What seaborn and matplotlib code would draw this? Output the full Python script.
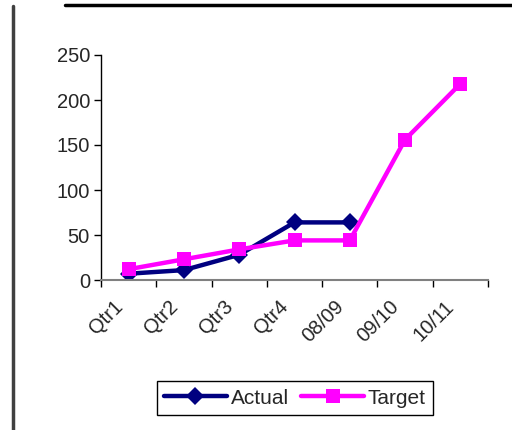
import pandas as pd
import numpy as np
import matplotlib.pyplot as plt
import seaborn as sns
import matplotlib.transforms as mtransforms
from matplotlib.lines import Line2D

# chart data
periods = ['Qtr1', 'Qtr2', 'Qtr3', 'Qtr4', '08/09', '09/10', '10/11']
actual = [7, 11, 28, 64, 64, np.nan, np.nan]
target = [12, 23, 34, 44, 44, 156, 218]

df = pd.DataFrame({'period': periods, 'Actual': actual, 'Target': target})

sns.set_style('white')
plt.rcParams['font.family'] = ['Liberation Sans', 'DejaVu Sans']

fig = plt.figure(figsize=(5.12, 4.30), dpi=100)
ax = fig.add_axes([101 / 512, 1 - 280 / 430, 387 / 512, 225 / 430])

sns.lineplot(data=df, x='period', y='Actual', ax=ax, color='#000080', lw=3.2,
             marker='D', markersize=9, markeredgewidth=0, label='Actual', legend=False)
sns.lineplot(data=df, x='period', y='Target', ax=ax, color='#FF00FF', lw=3.2,
             marker='s', markersize=10, markeredgewidth=0, label='Target', legend=False)

ax.set_xlim(-0.5, len(periods) - 0.5)
ax.set_ylim(0, 250)
ax.set_yticks(range(0, 251, 50))
ax.set_xlabel('')
ax.set_ylabel('')

# tick marks between categories, labels at centres
ax.set_xticks(np.arange(-0.5, len(periods)), labels=[])
ax.set_xticks(range(len(periods)), labels=periods, minor=True)
ax.tick_params(axis='x', which='major', length=5, width=1, color='black', direction='out', bottom=True)
ax.tick_params(axis='x', which='minor', length=0, pad=17, labelsize=14.5)
ax.tick_params(axis='y', length=5, width=1, color='black', direction='out', left=True, labelsize=14.5, pad=3)
shift = mtransforms.ScaledTranslation(-9 / 100, 0, fig.dpi_scale_trans)
for lab in ax.get_xticklabels(minor=True):
    lab.set_rotation(45)
    lab.set_ha('right')
    lab.set_va('center')
    lab.set_rotation_mode('anchor')
    lab.set_transform(lab.get_transform() + shift)

for s in ['top', 'right']:
    ax.spines[s].set_visible(False)
ax.spines['left'].set_color('black')
ax.spines['left'].set_linewidth(1)
ax.spines['bottom'].set_color('#808080')
ax.spines['bottom'].set_linewidth(1.5)

handles = [
    Line2D([], [], color='#000080', lw=3.2, marker='D', markersize=9, markeredgewidth=0),
    Line2D([], [], color='#FF00FF', lw=3.2, marker='s', markersize=10, markeredgewidth=0),
]
leg = fig.legend(handles, ['Actual', 'Target'], loc='center', ncol=2,
                 bbox_to_anchor=(295 / 512, 1 - 398 / 430), fontsize=15,
                 frameon=True, fancybox=False, edgecolor='black', framealpha=1,
                 handlelength=3.0, columnspacing=0.6, handletextpad=0.2,
                 borderpad=0.35, borderaxespad=0)
leg.get_frame().set_linewidth(1)

# outer frame fragments
fig.add_artist(Line2D([13 / 512, 13 / 512], [0, 1 - 6 / 430], transform=fig.transFigure,
                      color='#404040', lw=2.5))
fig.add_artist(Line2D([65 / 512, 1], [1 - 5 / 430, 1 - 5 / 430], transform=fig.transFigure,
                      color='black', lw=2.5))

fig.savefig('out.png', dpi=100)
